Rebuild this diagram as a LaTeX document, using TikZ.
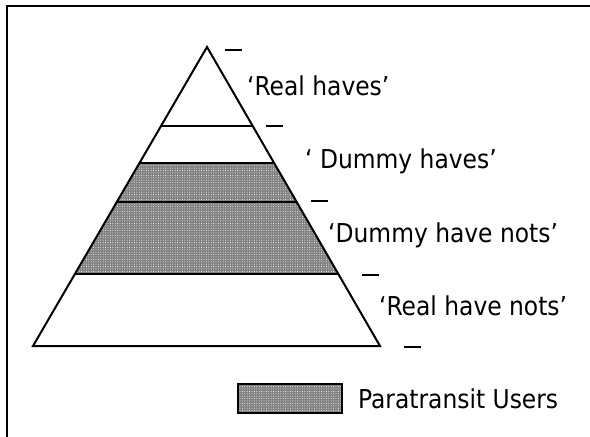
\documentclass[tikz,border=0pt]{standalone}
\usepackage{fontspec}
\setmainfont{DejaVu Sans Condensed}
\usetikzlibrary{patterns.meta, calc, positioning}

\begin{document}
\begin{tikzpicture}[x=1pt, y=-1pt,
    tier line/.style={line width=2pt},
    user tier/.style={
        preaction={fill=black!50},
        pattern={Dots[distance=2.4pt,radius=0.5pt]},
        pattern color=white
    },
    level tick/.style={line width=2pt},
    tier label/.style={anchor=base west, inner sep=0pt, font=\fontsize{26}{30}\selectfont}
]
    \useasboundingbox (0,0) rectangle (590,437);
    \draw[line width=2pt] (590,6) -- (7,6) -- (7,437);

    \coordinate (apex) at (207,47);
    \coordinate (bl) at (33,346);
    \coordinate (br) at (380,346);
    \foreach \t/\n in {0.264/a, 0.387/b, 0.517/c, 0.760/d} {
        \coordinate (l\n) at ($(apex)!\t!(bl)$);
        \coordinate (r\n) at ($(apex)!\t!(br)$);
    }

    % shaded tiers (paratransit users)
    \path[user tier] (lb) -- (rb) -- (rd) -- (ld) -- cycle;
    \draw[tier line] (la) -- (ra);
    \draw[tier line] (lb) -- (rb);
    \draw[tier line] (lc) -- (rc);
    \draw[tier line] (ld) -- (rd);
    \draw[tier line] (apex) -- (br) -- (bl) -- cycle;

    % ticks on the right
    \foreach \x/\y [count=\i] in {225/50, 266/126, 311/201, 362/275, 404/347}
        \draw[level tick] (\x,\y) coordinate (tick\i) -- ++(17,0);

    \node[tier label] (realhaves) at (247,95) {‘Real haves’};
    \node[tier label] (dummyhaves) at (305,168) {‘ Dummy haves’};
    \node[tier label] (dummynots) at (328,242) {‘Dummy have nots’};
    \node[tier label] (realnots) at (379,315) {‘Real have nots’};

    % legend
    \node[draw, line width=2pt, user tier, minimum width=104pt, minimum height=29pt,
          anchor=north west, inner sep=0pt] (legend) at (237,383) {};
    \node[tier label] (legendtext) at (358,408) {Paratransit Users};
\end{tikzpicture}
\end{document}
